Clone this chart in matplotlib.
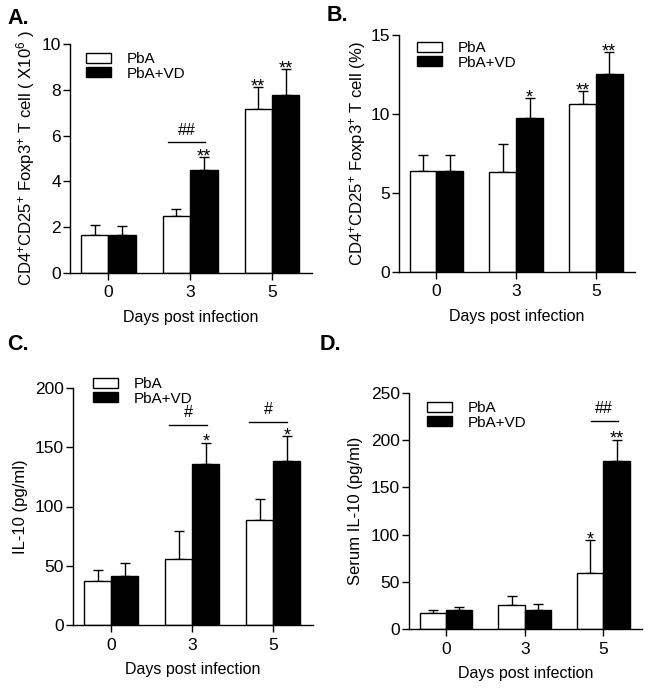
import matplotlib
matplotlib.use("Agg")
import matplotlib.pyplot as plt
import numpy as np

plt.rcParams['font.family'] = ['Liberation Sans', 'DejaVu Sans']
plt.rcParams['mathtext.fontset'] = 'custom'
plt.rcParams['mathtext.rm'] = 'Liberation Sans'
plt.rcParams['mathtext.it'] = 'Liberation Sans:italic'
plt.rcParams['mathtext.bf'] = 'Liberation Sans:bold'

# ---------------- data ----------------
days = ['0', '3', '5']
series = ['PbA', 'PbA+VD']

a_pba_mean = [1.67, 2.47, 7.16]
a_pba_sem = [0.41, 0.34, 0.96]
a_vd_mean = [1.67, 4.51, 7.76]
a_vd_sem = [0.38, 0.54, 1.15]

b_pba_mean = [6.40, 6.36, 10.66]
b_pba_sem = [1.02, 1.75, 0.80]
b_vd_mean = [6.40, 9.73, 12.51]
b_vd_sem = [1.02, 1.27, 1.39]

c_pba_mean = [37.5, 55.5, 88.5]
c_pba_sem = [9.0, 24.0, 18.0]
c_vd_mean = [41.7, 136.0, 138.6]
c_vd_sem = [11.0, 17.8, 20.6]

d_pba_mean = [16.9, 25.0, 59.5]
d_pba_sem = [3.5, 9.5, 34.5]
d_vd_mean = [19.7, 20.4, 178.2]
d_vd_sem = [3.2, 6.0, 22.5]

# significance stars: (group index, series index, text)
a_stars = [(1, 1, '**'), (2, 0, '**'), (2, 1, '**')]
b_stars = [(1, 1, '*'), (2, 0, '**'), (2, 1, '**')]
c_stars = [(1, 1, '*'), (2, 1, '*')]
d_stars = [(2, 0, '*'), (2, 1, '**')]

# hash bars: (group index, y, text)
a_hash = [(1, 5.7, '##')]
b_hash = []
c_hash = [(1, 168.5, '#'), (2, 171.5, '#')]
d_hash = [(2, 220.4, '##')]

a_ylim, a_yticks = 10, [0, 2, 4, 6, 8, 10]
b_ylim, b_yticks = 15, [0, 5, 10, 15]
c_ylim, c_yticks = 200, [0, 50, 100, 150, 200]
d_ylim, d_yticks = 250, [0, 50, 100, 150, 200, 250]

a_ylabel = r'CD4$^{+}$CD25$^{+}$ Foxp3$^{+}$ T cell ( X10$^{6}$ )'
b_ylabel = r'CD4$^{+}$CD25$^{+}$ Foxp3$^{+}$ T cell (%)'
c_ylabel = 'IL-10 (pg/ml)'
d_ylabel = 'Serum IL-10 (pg/ml)'
xlabel = 'Days post infection'

# ---------------- layout ----------------
W, H = 654, 688
fig = plt.figure(figsize=(W / 100, H / 100), dpi=100)


def rect(l, r, t, b):
    return [l / W, 1 - b / H, (r - l) / W, (b - t) / H]


BW = 0.335


def panel(box, pba_m, pba_s, vd_m, vd_s, ylim, yticks, ylabel, stars, hashes,
          hash_span, leg_off, ylab_x):
    ax = fig.add_axes(rect(*box))
    x = np.arange(len(days))
    xs = [x - BW / 2, x + BW / 2]
    means = [pba_m, vd_m]
    sems = [pba_s, vd_s]
    colors = ['white', 'black']
    for i in range(2):
        ax.bar(xs[i], means[i], width=BW, color=colors[i], edgecolor='black',
               linewidth=1.0, label=series[i], zorder=2)
        ax.errorbar(xs[i], means[i], yerr=[np.zeros(len(days)), sems[i]],
                    fmt='none', ecolor='black', elinewidth=1.0, capsize=3.6,
                    capthick=1.0, zorder=1)
    for g, s, t in stars:
        top = means[s][g] + sems[s][g]
        ax.annotate(t, (xs[s][g], top), xytext=(0, -3), textcoords='offset points',
                    ha='center', va='baseline', fontsize=13)
    for (g, yv, t), (x0, x1) in zip(hashes, hash_span):
        ax.plot([g + x0, g + x1], [yv, yv], color='black', lw=1.0)
        ax.annotate(t, ((g + x0 + g + x1) / 2, yv), xytext=(0, 3.5),
                    textcoords='offset points', ha='center', va='bottom', fontsize=11.5)
    ax.set_xlim(-0.47, 2.49)
    ax.set_ylim(0, ylim)
    ax.set_yticks(yticks)
    ax.set_xticks(x)
    ax.set_xticklabels(days)
    ax.spines['top'].set_visible(False)
    ax.spines['right'].set_visible(False)
    for sp in ['left', 'bottom']:
        ax.spines[sp].set_linewidth(1.0)
    ax.tick_params(axis='both', direction='out', length=5, width=1.0,
                   labelsize=12.5, pad=1.5)
    ax.tick_params(axis='x', pad=4)
    ax.set_xlabel(xlabel, fontsize=11.5, labelpad=6.5)
    ax.set_ylabel(ylabel, fontsize=12)
    l, r, t, b = box
    ax.yaxis.set_label_coords((ylab_x - l) / (r - l), 0.5)
    dx, dy = leg_off
    ax.legend(loc='upper left', bbox_to_anchor=(dx / (r - l), 1 - dy / (b - t)),
              frameon=False, fontsize=11, borderpad=0, borderaxespad=0,
              handlelength=1.65, handleheight=0.62, handletextpad=1.0,
              labelspacing=0.05)
    return ax


panel((70, 312, 44, 273), a_pba_mean, a_pba_sem, a_vd_mean, a_vd_sem, a_ylim, a_yticks,
      a_ylabel, a_stars, a_hash, [(-0.27, 0.18)], (16, 8), 37)
panel((399, 635, 35, 272), b_pba_mean, b_pba_sem, b_vd_mean, b_vd_sem, b_ylim, b_yticks,
      b_ylabel, b_stars, b_hash, [], (18, 6), 368)
panel((73, 313, 388, 625), c_pba_mean, c_pba_sem, c_vd_mean, c_vd_sem, c_ylim, c_yticks,
      c_ylabel, c_stars, c_hash, [(-0.28, 0.18), (-0.30, 0.17)], (20, -11), 28)
panel((409, 642, 393, 629), d_pba_mean, d_pba_sem, d_vd_mean, d_vd_sem, d_ylim, d_yticks,
      d_ylabel, d_stars, d_hash, [(-0.16, 0.18)], (18, 8), 363)

for txt, px, py in [('A.', 7, 8), ('B.', 327, 5), ('C.', 7, 334), ('D.', 320, 334)]:
    fig.text(px / W, 1 - py / H, txt, fontsize=15.5, fontweight='bold',
             ha='left', va='top')

fig.savefig('out.png', dpi=100)
